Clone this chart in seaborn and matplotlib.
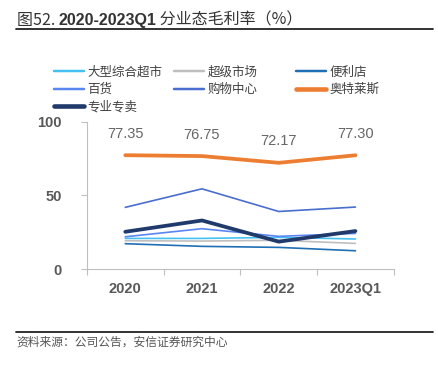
import matplotlib
matplotlib.use("Agg")
import matplotlib.pyplot as plt
import seaborn as sns
import pandas as pd
from matplotlib.lines import Line2D

categories = ["2020", "2021", "2022", "2023Q1"]
hypermarket = [20.8, 20.8, 21.5, 20.4]
supermarket = [19.2, 19.0, 19.5, 17.4]
convenience = [17.2, 15.4, 14.7, 12.4]
department = [21.9, 27.4, 22.2, 24.2]
mall = [41.9, 54.5, 39.1, 42.1]
outlets = [77.35, 76.75, 72.17, 77.30]
specialty = [25.3, 33.0, 18.6, 25.8]
outlet_labels = ["77.35", "76.75", "72.17", "77.30"]

series_names = ["大型综合超市", "超级市场", "便利店", "百货", "购物中心", "奥特莱斯", "专业专卖"]
series_values = [hypermarket, supermarket, convenience, department, mall, outlets, specialty]
colors = ["#45C0F2", "#BFBFBF", "#1F6FB5", "#5A86F2", "#4A6ED0", "#ED7D31", "#203A6B"]
widths = [1.2, 1.2, 1.2, 1.2, 1.2, 2.7, 2.7]

sns.set_theme(style="white")
plt.rcParams['font.family'] = ['Noto Sans CJK SC', 'DejaVu Sans']

fig = plt.figure(figsize=(4.39, 3.66), dpi=100)
ax = fig.add_axes([0.198, 0.265, 0.699, 0.402])

rows = []
for name, vals in zip(series_names, series_values):
    for c, v in zip(categories, vals):
        rows.append({"cat": c, "val": v, "series": name})
df = pd.DataFrame(rows)

for name, col, lw in zip(series_names, colors, widths):
    sub = df[df["series"] == name]
    sns.lineplot(data=sub, x="cat", y="val", ax=ax, color=col, linewidth=lw,
                 legend=False, sort=False)

for i, lab in enumerate(outlet_labels):
    ax.text(i, outlets[i] + 14.5, lab, ha="center", va="center", fontsize=10.5,
            color="#666666", family=["Liberation Sans"])

ax.set_xlim(-0.5, 3.5)
ax.set_ylim(0, 100)
ax.set_yticks([0, 50, 100])
ax.set_xticks(range(len(categories)))
ax.set_xticklabels(categories)
ax.set_xlabel("")
ax.set_ylabel("")
for lab in ax.get_xticklabels() + ax.get_yticklabels():
    lab.set_family(["Liberation Sans"])
    lab.set_fontweight("bold")
    lab.set_color("#595959")
    lab.set_fontsize(10.5)
ax.tick_params(axis="x", length=0, pad=9)
ax.tick_params(axis="y", length=4, direction="out", color="#BFBFBF", width=0.8, pad=14, left=True)
ax.set_xticks([-0.5, 0.5, 1.5, 2.5, 3.5], minor=True)
ax.tick_params(axis="x", which="minor", length=4, direction="out", color="#BFBFBF", width=0.8, bottom=True)
for s in ["top", "right"]:
    ax.spines[s].set_visible(False)
for s in ["left", "bottom"]:
    ax.spines[s].set_color("#BFBFBF")
    ax.spines[s].set_linewidth(0.8)
ax.grid(False)

columns = [[0, 3, 6], [1, 4], [2, 5]]
col_x = [0.097, 0.370, 0.648]
for idxs, cx in zip(columns, col_x):
    handles = [Line2D([0], [0], color=colors[i], linewidth=widths[i] + 0.6) for i in idxs]
    labels = [series_names[i] for i in idxs]
    fig.legend(handles, labels, ncol=1, loc="upper left", bbox_to_anchor=(cx, 0.851),
               frameon=False, fontsize=9, handlelength=2.4,
               labelspacing=0.35, handletextpad=0.3, labelcolor="#404040")

t1 = fig.text(0.038, 0.945, "图52. ", fontsize=11.5, color="#333333", va="center", ha="left")
a2 = ax.annotate("2020-2023Q1", xy=(1, 0.5), xycoords=t1, va="center", ha="left",
                 fontsize=11.5, color="#333333", fontweight="bold",
                 family=["Liberation Sans"], annotation_clip=False)
a3 = ax.annotate(" 分业态毛利率（%）", xy=(1, 0.5), xycoords=a2, va="center", ha="left",
                 fontsize=11.5, color="#333333", annotation_clip=False)
fig.add_artist(Line2D([0.036, 0.987], [0.922, 0.922], color="#222222", linewidth=1.3,
                      transform=fig.transFigure))
fig.add_artist(Line2D([0.036, 0.987], [0.093, 0.093], color="#222222", linewidth=1.3,
                      transform=fig.transFigure))
fig.text(0.038, 0.065, "资料来源：公司公告，安信证券研究中心", fontsize=8.5, color="#555555",
         va="center", ha="left", style="italic")

fig.savefig("out.png", dpi=100)
